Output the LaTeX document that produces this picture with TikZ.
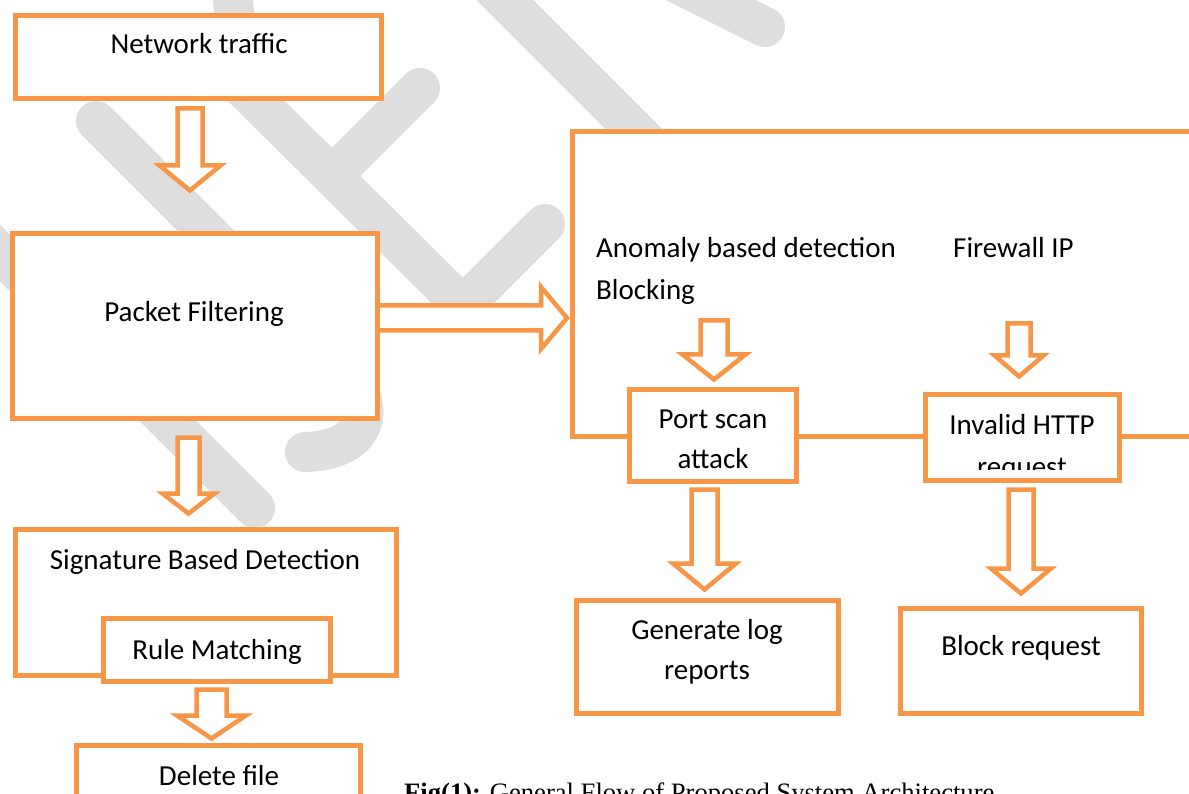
\documentclass[tikz,border=0pt]{standalone}
\usepackage{fontspec}
\setmainfont{Carlito}
\newfontfamily\capfont{Liberation Serif}
\usetikzlibrary{calc}
\definecolor{orng}{HTML}{F79646}
\definecolor{wmgray}{HTML}{DEDEDE}
\newcommand\vbarrow[5]{%
  \draw[barrow] ($(#1)+(-#3,0)$) -- ($(#1)+(#3,0)$) -- ($(#2)+(#3,-#5)$) -- ($(#2)+(#4,-#5)$) -- (#2) -- ($(#2)+(-#4,-#5)$) -- ($(#2)+(-#3,-#5)$) -- cycle;}
\begin{document}
\begin{tikzpicture}[x=1pt,y=-1pt,
  box/.style={draw=orng, line width=5pt, fill=white, rectangle, inner sep=0pt, anchor=north west},
  lbl/.style={font=\fontsize{29}{41}\selectfont, inner sep=0pt, anchor=base},
  lbll/.style={font=\fontsize{29}{41}\selectfont, inner sep=0pt, anchor=base west},
  barrow/.style={draw=orng, line width=4.5pt, fill=white, line join=miter},
  wmband/.style={draw=wmgray, line width=40pt, line cap=round, line join=round}]
\useasboundingbox (0,0) rectangle (1189,794);
\clip (0,0) rectangle (1189,794);
\fill[white] (0,0) rectangle (1189,794);

% watermark
\draw[wmband] (-60,193) -- (255,508);
\draw[wmband] (96,121) -- (340,365) .. controls (378,403) and (372,450) .. (305,452);
\draw[wmband] (215,60) -- (463,306) -- (545,224);
\draw[wmband] (231,-30) -- (236,40);
\draw[wmband] (420,88) -- (333,175);
\draw[wmband] (470,-35) -- (700,195);
\draw[wmband] (600,-55) -- (765,27);

% boxes
\node[box, minimum width=366, minimum height=83] (nt) at (13,13) {};
\node[box, minimum width=365, minimum height=185] (pf) at (10,231) {};
\node[box, minimum width=628, minimum height=305] (big) at (570,129) {};
\node[box, minimum width=381, minimum height=146] (sig) at (13,527) {};
\node[box, minimum width=227, minimum height=63] (rule) at (101,616) {};
\node[box, minimum width=284, minimum height=112] (del) at (74,743) {};
\node[box, minimum width=167, minimum height=92] (port) at (627,387) {};
\node[box, minimum width=194, minimum height=86] (inv) at (923,392) {};
\node[box, minimum width=262, minimum height=113] (gen) at (574,598) {};
\node[box, minimum width=241, minimum height=105] (blk) at (898,606) {};

% texts
\node[lbl] (ntt) at (199,54) {Network traffic};
\node[lbl] (pft) at (194,322) {Packet Filtering};
\node[lbl] (sigt) at (205,569) {Signature Based Detection};
\node[lbl] (rulet) at (217,659) {Rule Matching};
\node[lbl] (delt) at (219,785) {Delete file};
\node[lbll] (anot) at (596,258) {Anomaly based detection};
\node[lbll] (blkt) at (596,300) {Blocking};
\node[lbll] (fwt) at (953,258) {Firewall IP};
\node[lbl] (portt1) at (713,428) {Port scan};
\node[lbl] (portt2) at (713,468) {attack};
\node[lbl] (invt1) at (1022,434) {Invalid HTTP};
\begin{scope}
\clip (926,440) rectangle (1119,469);
\node[lbl] (invt2) at (1022,476) {request};
\end{scope}
\node[lbl] (gent1) at (707,639) {Generate log};
\node[lbl] (gent2) at (707,679) {reports};
\node[lbl] (blkrt) at (1021,655) {Block request};

% block arrows
\coordinate (a1s) at (190,108.5);   \coordinate (a1e) at (190,190.5);
\coordinate (a2s) at (188.5,437.5); \coordinate (a2e) at (188.5,513.5);
\coordinate (a3s) at (211.5,689.5); \coordinate (a3e) at (211.5,738.5);
\coordinate (a4s) at (714,320.5);   \coordinate (a4e) at (714,379.5);
\coordinate (a5s) at (1019,323.5);  \coordinate (a5e) at (1019,376.5);
\coordinate (a6s) at (704.5,489.5); \coordinate (a6e) at (704.5,589.5);
\coordinate (a7s) at (1021,489.5);  \coordinate (a7e) at (1021,593.5);
\vbarrow{a1s}{a1e}{12.5}{30.5}{25}
\vbarrow{a2s}{a2e}{11}{26}{20}
\vbarrow{a3s}{a3e}{15}{34.5}{23}
\vbarrow{a4s}{a4e}{13.5}{31.5}{25}
\vbarrow{a5s}{a5e}{11.5}{24.5}{21}
\vbarrow{a6s}{a6e}{13}{31.5}{26}
\vbarrow{a7s}{a7e}{12.5}{30}{25}

% horizontal block arrow from Packet Filtering to the detection box
\coordinate (hs) at (pf.east |- 0,318);
\coordinate (he) at (567,318);
\draw[barrow] ($(hs)+(-2.5,-12.5)$) -- ($(he)+(-26,-12.5)$) -- ($(he)+(-26,-31)$) -- (he) -- ($(he)+(-26,31)$) -- ($(he)+(-26,12.5)$) -- ($(hs)+(-2.5,12.5)$) -- cycle;

% caption
\node[anchor=base west, inner sep=0pt, font=\capfont\fontsize{26.6}{30}\selectfont] (cap) at (404,801) {\textbf{Fig(1):} General Flow of Proposed System Architecture};
\end{tikzpicture}
\end{document}
